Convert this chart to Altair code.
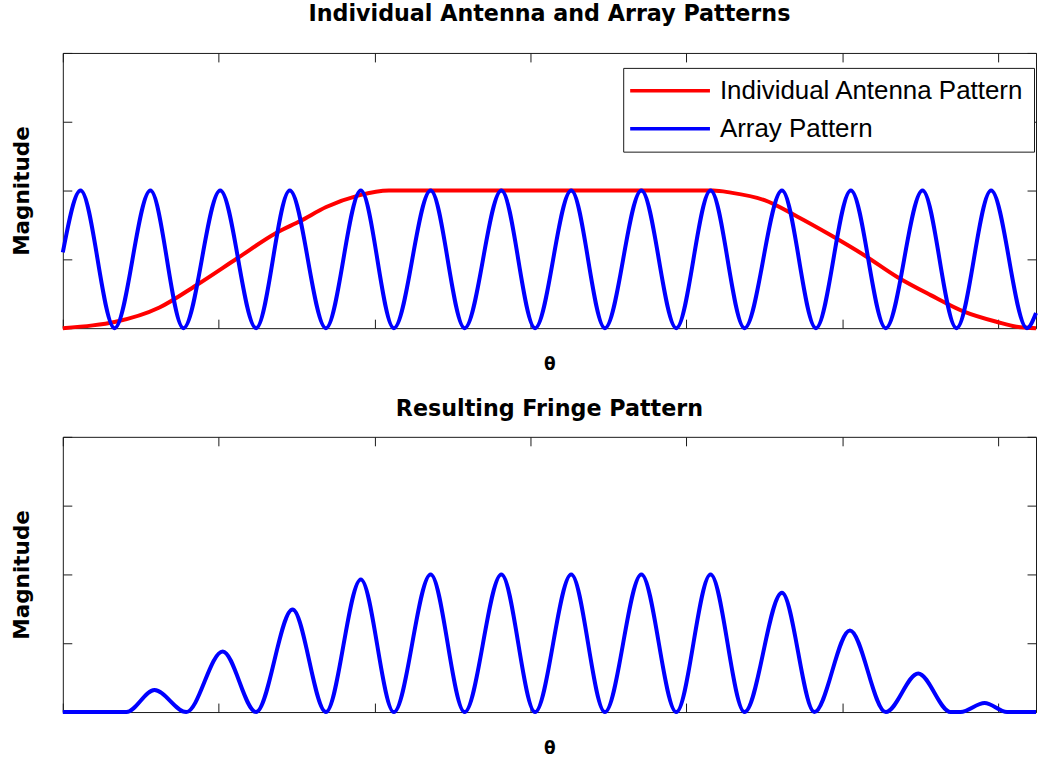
import altair as alt
import pandas as pd

# Angle window (radians) and tick positions
THETA_MAX = 3.122
X_TICKS = [0, 0.5, 1.0, 1.5, 2.0, 2.5, 3.0]
Y_TICKS = [0, 0.5, 1.0, 1.5, 2.0]

# Individual antenna (element) pattern
element_theta = [0.000, 0.096, 0.166, 0.310, 0.427, 0.561, 0.683, 0.763, 0.845, 0.950, 1.046,
                 2.086, 2.143, 2.251, 2.357, 2.464, 2.571, 2.678, 2.784, 2.891, 2.997, 3.060, 3.122]
element_mag = [0.000, 0.020, 0.045, 0.150, 0.310, 0.510, 0.690, 0.780, 0.880, 0.965, 1.000,
               1.000, 0.985, 0.930, 0.810, 0.675, 0.530, 0.370, 0.240, 0.120, 0.045, 0.010, 0.000]

# Array pattern: maxima and nulls
array_theta = [0.000, 0.057, 0.166, 0.281, 0.387, 0.505, 0.620, 0.728, 0.844, 0.956, 1.062,
               1.180, 1.289, 1.407, 1.515, 1.631, 1.739, 1.856, 1.968, 2.078, 2.187, 2.307,
               2.416, 2.528, 2.640, 2.758, 2.867, 2.978, 3.093, 3.122]
array_mag = [0.55, 1, 0, 1, 0, 1, 0, 1, 0, 1, 0,
             1, 0, 1, 0, 1, 0, 1, 0, 1, 0, 1,
             0, 1, 0, 1, 0, 1, 0, 0.11]

# Resulting fringe pattern
fringe_theta = [0.000, 0.204, 0.294, 0.396, 0.513, 0.620, 0.737, 0.844, 0.956, 1.062,
                1.180, 1.289, 1.407, 1.515, 1.631, 1.739, 1.856, 1.968, 2.078, 2.187,
                2.307, 2.411, 2.525, 2.640, 2.744, 2.848, 2.880, 2.957, 3.029, 3.122]
fringe_mag = [0.000, 0.000, 0.160, 0.000, 0.440, 0.000, 0.745, 0.000, 0.964, 0.000,
              1.000, 0.000, 1.000, 0.000, 1.000, 0.000, 1.000, 0.000, 1.000, 0.000,
              0.867, 0.000, 0.593, 0.000, 0.280, 0.000, 0.000, 0.065, 0.000, 0.000]

SERIES = ["Individual Antenna Pattern", "Array Pattern"]
COLORS = ["#ff0000", "#0000ff"]

element_df = pd.DataFrame({"theta": element_theta, "mag": element_mag, "series": SERIES[0]})
array_df = pd.DataFrame({"theta": array_theta, "mag": array_mag, "series": SERIES[1]})
fringe_df = pd.DataFrame({"theta": fringe_theta, "mag": fringe_mag})

FONT = "DejaVu Sans"
INK = "#1a1a1a"
TICK = 9
LINE_W = 4

x_scale = alt.Scale(domain=[0, THETA_MAX], nice=False, zero=False)
y_scale = alt.Scale(domain=[0, 2], nice=False)


def frame_axis(orient, values, title=None):
    """Box-style axis: inward ticks, no labels."""
    kw = dict(orient=orient, values=values, labels=False, domain=False, grid=False,
              tickSize=TICK, offset=-TICK, tickColor=INK, tickWidth=1, title=title)
    if title is not None:
        kw.update(titleFont=FONT, titleFontWeight="bold", titleColor="#000")
        if orient == "left":
            kw.update(titleFontSize=21.6, titlePadding=29)
        else:
            kw.update(titleFontSize=17, titlePadding=28)
    return alt.Axis(**kw)


color_scale = alt.Scale(domain=SERIES, range=COLORS)
legend = alt.Legend(
    orient="none", legendX=562, legendY=15, title=None,
    symbolType="M-1.6,0H6.4", symbolSize=400, symbolStrokeWidth=3.5,
    labelFont="Liberation Sans", labelFontSize=26, labelColor="#000",
    labelOffset=61, labelLimit=500, rowPadding=12, padding=10,
    strokeColor=INK, fillColor="white",
)


def line_layer(df, x_orient, y_orient, x_title=None, y_title=None, color=None, opacity=1):
    enc = dict(
        x=alt.X("theta:Q", scale=x_scale, axis=frame_axis(x_orient, X_TICKS, x_title)),
        y=alt.Y("mag:Q", scale=y_scale, axis=frame_axis(y_orient, Y_TICKS, y_title)),
    )
    if color is not None:
        enc["color"] = alt.Color("series:N", scale=color_scale, legend=legend)
        mark = alt.Chart(df).mark_line(interpolate="monotone", strokeWidth=LINE_W,
                                       strokeJoin="round", strokeOpacity=opacity)
    else:
        mark = alt.Chart(df).mark_line(interpolate="monotone", strokeWidth=LINE_W,
                                       strokeJoin="round", color="#0000ff",
                                       strokeOpacity=opacity)
    return mark.encode(**enc)


def panel_title(text, offset):
    return alt.Title(text, font=FONT, fontSize=22.3, fontWeight="bold", color="#000",
                     anchor="middle", offset=offset)


top = alt.layer(
    line_layer(element_df, "bottom", "left", "θ", "Magnitude", color=True),
    line_layer(array_df, "top", "right", color=True),
).resolve_axis(x="independent", y="independent").properties(
    width=976, height=276, title=panel_title("Individual Antenna and Array Patterns", 27)
)

bottom = alt.layer(
    line_layer(fringe_df, "bottom", "left", "θ", "Magnitude"),
    line_layer(fringe_df, "top", "right", opacity=0),
).resolve_axis(x="independent", y="independent").properties(
    width=976, height=276, title=panel_title("Resulting Fringe Pattern", 16)
)

chart = alt.vconcat(top, bottom, spacing=24).properties(
    padding={"left": 11, "top": 1, "right": 0, "bottom": 0}
).configure(background="white").configure_view(stroke=INK, strokeWidth=1)

chart.save("out.html", embed_options={"renderer": "svg", "actions": False})
